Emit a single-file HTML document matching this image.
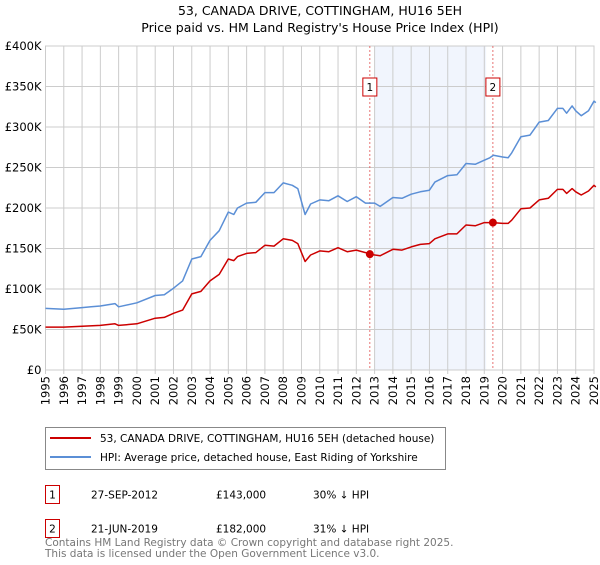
<!DOCTYPE html>
<html><head><meta charset="utf-8"><style>
body{margin:0;background:#fff;font-family:"Liberation Sans","DejaVu Sans",sans-serif}
svg text{font-family:"DejaVu Sans","Liberation Sans",sans-serif}
</style></head><body>
<svg id="c" width="600" height="560" xmlns="http://www.w3.org/2000/svg">
<text x="320" y="15" text-anchor="middle" font-size="12.5">53, CANADA DRIVE, COTTINGHAM, HU16 5EH</text>
<text x="320" y="32" text-anchor="middle" font-size="12.5">Price paid vs. HM Land Registry's House Price Index (HPI)</text>
<g id="plot"></g>
<rect x="45.5" y="427.5" width="400" height="42" fill="#fff" stroke="#888"/>
<line x1="50" y1="438" x2="91" y2="438" stroke="#cc0000" stroke-width="2"/>
<text x="100" y="442" font-size="10.5">53, CANADA DRIVE, COTTINGHAM, HU16 5EH (detached house)</text>
<line x1="50" y1="457" x2="91" y2="457" stroke="#5b8fd6" stroke-width="2"/>
<text x="100" y="461" font-size="10.5">HPI: Average price, detached house, East Riding of Yorkshire</text>
<g>
<rect x="45.5" y="485.5" width="14" height="18" fill="none" stroke="#cc0000"/>
<text x="52.5" y="498.5" text-anchor="middle" font-size="10.5">1</text>
<text x="91" y="498.5" font-size="10.5">27-SEP-2012</text>
<text x="216" y="498.5" font-size="10.5">£143,000</text>
<text x="313" y="498.5" font-size="10.5">30% ↓ HPI</text></g>
<g>
<rect x="45.5" y="519.5" width="14" height="18" fill="none" stroke="#cc0000"/>
<text x="52.5" y="532.5" text-anchor="middle" font-size="10.5">2</text>
<text x="91" y="532.5" font-size="10.5">21-JUN-2019</text>
<text x="216" y="532.5" font-size="10.5">£182,000</text>
<text x="313" y="532.5" font-size="10.5">31% ↓ HPI</text></g>
<text x="45" y="546" font-size="10.5" fill="#777">Contains HM Land Registry data © Crown copyright and database right 2025.</text>
<text x="45" y="557" font-size="10.5" fill="#777">This data is licensed under the Open Government Licence v3.0.</text>
</svg>
<script>
const hpiYears=[1995,1996,1997,1997.5,1998,1998.8,1999,2000,2001,2001.5,2002,2002.5,2003,2003.5,2004,2004.5,2005,2005.3,2005.5,2006,2006.5,2007,2007.5,2008,2008.5,2008.8,2009.2,2009.5,2010,2010.5,2011,2011.5,2012,2012.5,2013,2013.3,2014,2014.5,2015,2015.5,2016,2016.3,2017,2017.5,2018,2018.5,2019,2019.3,2019.5,2020,2020.3,2020.5,2021,2021.5,2022,2022.5,2023,2023.3,2023.5,2023.8,2024,2024.3,2024.7,2025,2025.1];
const hpiValues=[76,75,77,78,79,82,78,83,92,93,101,110,137,140,160,172,195,192,200,206,207,219,219,231,228,224,192,205,210,209,215,208,214,206,206,202,213,212,217,220,222,232,240,241,255,254,259,262,265,263,262,268,288,290,306,308,323,323,317,326,320,314,320,332,330];
const priceYears=[1995,1996,1997,1998,1998.8,1999,2000,2001,2001.5,2002,2002.5,2003,2003.5,2004,2004.5,2005,2005.3,2005.5,2006,2006.5,2007,2007.5,2008,2008.5,2008.8,2009.2,2009.5,2010,2010.5,2011,2011.5,2012,2012.5,2012.74,2013.3,2014,2014.5,2015,2015.5,2016,2016.3,2017,2017.5,2018,2018.5,2019,2019.47,2020,2020.3,2020.5,2021,2021.5,2022,2022.5,2023,2023.3,2023.5,2023.8,2024,2024.3,2024.7,2025,2025.1];
const priceValues=[53,53,54,55,57,55,57,64,65,70,74,94,97,110,118,137,135,140,144,145,154,153,162,160,156,134,142,147,146,151,146,148,145,143,141,149,148,152,155,156,162,168,168,179,178,182,182,181,181,185,199,200,210,212,223,223,218,224,220,216,221,228,226];
const saleYears=[2012.74,2019.47];
const saleValues=[143,182];
const saleLabels=["1","2"];
const yTicks=[0,50,100,150,200,250,300,350,400];
const yTickLabels=["£0","£50K","£100K","£150K","£200K","£250K","£300K","£350K","£400K"];
const xYears=[1995,1996,1997,1998,1999,2000,2001,2002,2003,2004,2005,2006,2007,2008,2009,2010,2011,2012,2013,2014,2015,2016,2017,2018,2019,2020,2021,2022,2023,2024,2025];
const shadeRange=[2013.0,2019.1];
const X0=45.5,X1=594,Y0=370,Y1=46;
const xs=y=>X0+(y-1995)/30*(X1-X0);
const ys=v=>Y0-v/400*(Y0-Y1);
const NS="http://www.w3.org/2000/svg";
const g=document.getElementById('plot');
function mk(t,a,p){const e=document.createElementNS(NS,t);for(const k in a)e.setAttribute(k,a[k]);(p||g).appendChild(e);return e;}
const sh=mk('rect',{x:xs(shadeRange[0]),y:Y1,width:xs(shadeRange[1])-xs(shadeRange[0]),height:Y0-Y1,fill:'#eef3fc',opacity:0.8});


yTicks.forEach((v,i)=>{
 const l=mk('line',{x1:X0,x2:X1,y1:ys(v),y2:ys(v),stroke:'#ccc'});
 
 
 const t=mk('text',{x:X0-4,y:ys(v)+4,'text-anchor':'end','font-size':'11.5'});
 t.textContent=yTickLabels[i];
 
 
});
xYears.forEach(yr=>{
 const l=mk('line',{x1:xs(yr),x2:xs(yr),y1:Y1,y2:Y0+4,stroke:'#ccc'});
 
 
 const tx=xs(yr)+4, ty=Y0+6;
 const t=mk('text',{x:tx,y:ty,'text-anchor':'end','font-size':'11.5',transform:'rotate(-90 '+tx+' '+ty+')'});
 t.textContent=yr;
 
 
});
const ax=mk('rect',{x:X0,y:Y1,width:X1-X0,height:Y0-Y1,fill:'none',stroke:'#ccc'});


saleYears.forEach((yr,i)=>{
 const l=mk('line',{x1:xs(yr),x2:xs(yr),y1:Y1,y2:Y0,stroke:'#e05050','stroke-dasharray':'2,2','stroke-width':0.8});
 
 
 const b=mk('rect',{x:xs(yr)-7,y:78,width:14,height:18,fill:'#fff',stroke:'#cc0000'});
 
 
 const t=mk('text',{x:xs(yr),y:91,'text-anchor':'middle','font-size':'10.5'});
 t.textContent=saleLabels[i];
 
 
});
function path(xa,va,col,name){
 const d=xa.map((x,i)=>(i?'L':'M')+xs(x).toFixed(1)+','+ys(va[i]).toFixed(1)).join('');
 const p=mk('path',{d:d,fill:'none',stroke:col,'stroke-width':1.5,'stroke-linejoin':'round'});
 
 
}
path(hpiYears,hpiValues,'#5b8fd6','hpi-line');
path(priceYears,priceValues,'#cc0000','price-line');
saleYears.forEach((yr,i)=>{
 const c=mk('circle',{cx:xs(yr),cy:ys(saleValues[i]),r:4,fill:'#cc0000'});
 
 
});
</script>
</body></html>
